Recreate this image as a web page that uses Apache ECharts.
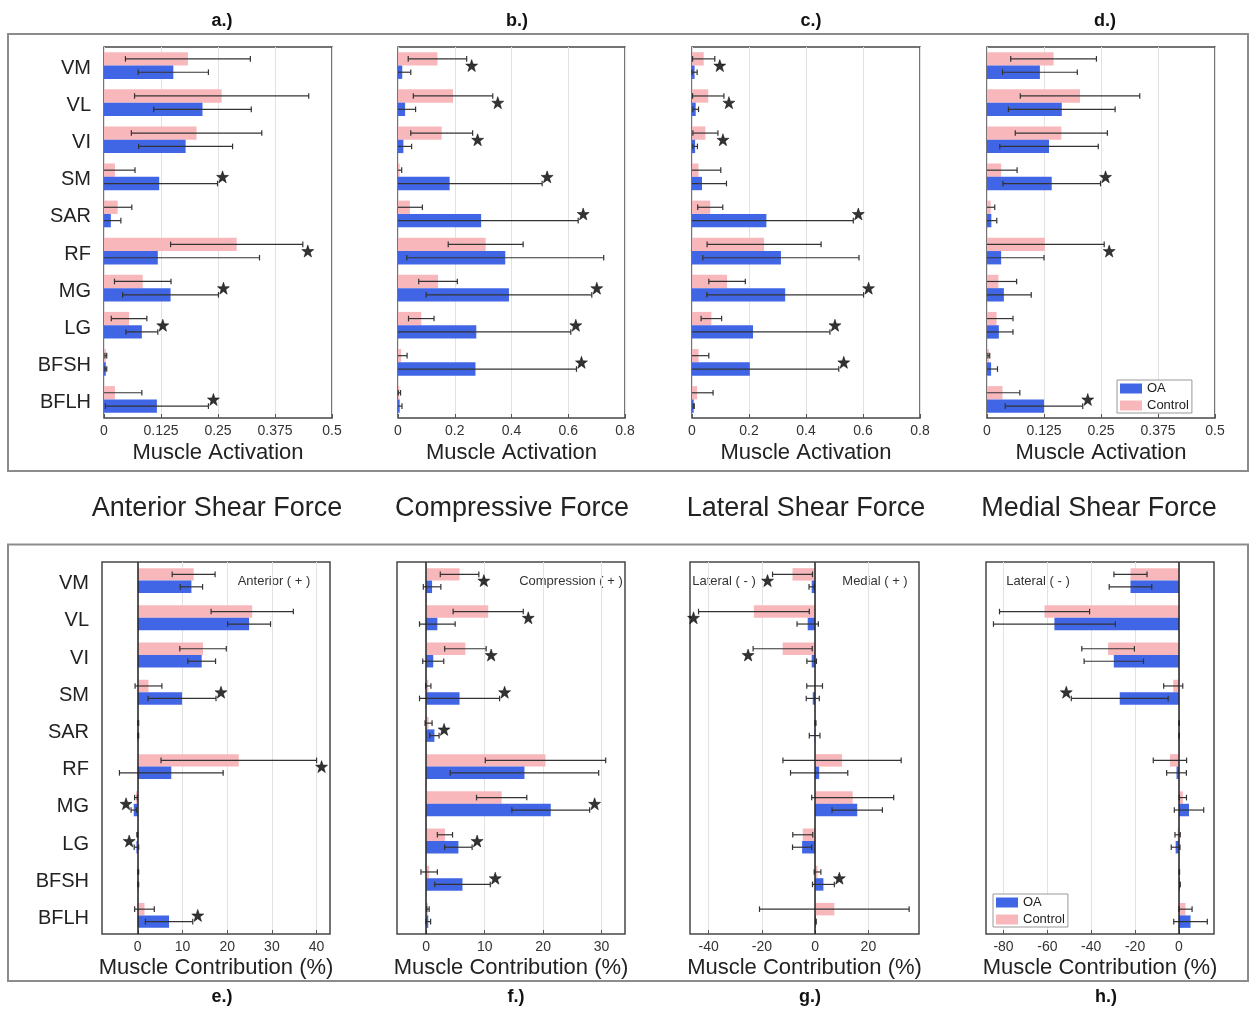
<!DOCTYPE html>
<html><head><meta charset="utf-8">
<script src="https://cdn.jsdelivr.net/npm/echarts@6/dist/echarts.min.js"></script>
<style>html,body{margin:0;padding:0;background:#fff}#c{width:1250px;height:1009px}</style>
</head><body><div id="c"></div>
<script>
// ---------------- DATA ----------------
const muscles = ['VM','VL','VI','SM','SAR','RF','MG','LG','BFSH','BFLH'];

// a.) Muscle activation, anterior shear force
const aCtrl   = [0.184, 0.258, 0.203, 0.024, 0.030, 0.291, 0.085, 0.055, 0.004, 0.024];
const aCtrlSd = [0.137, 0.191, 0.143, 0.044, 0.031, 0.145, 0.062, 0.039, 0.002, 0.059];
const aOa     = [0.152, 0.216, 0.179, 0.121, 0.015, 0.118, 0.146, 0.083, 0.004, 0.116];
const aOaSd   = [0.077, 0.107, 0.103, 0.128, 0.022, 0.223, 0.105, 0.035, 0.002, 0.113];
const aSig    = [0,0,0,1,0,1,1,1,0,1];

// b.) Muscle activation, compressive force
const bCtrl   = [0.139, 0.194, 0.154, 0.006, 0.042, 0.309, 0.141, 0.082, 0.011, 0.005];
const bCtrlSd = [0.103, 0.140, 0.109, 0.007, 0.044, 0.132, 0.068, 0.045, 0.021, 0.004];
const bOa     = [0.015, 0.025, 0.019, 0.182, 0.293, 0.378, 0.391, 0.276, 0.273, 0.006];
const bOaSd   = [0.030, 0.037, 0.029, 0.326, 0.342, 0.347, 0.292, 0.333, 0.356, 0.008];
const bSig    = [1,1,1,1,1,0,1,1,1,0];

// c.) Muscle activation, lateral shear force
const cCtrl   = [0.041, 0.057, 0.047, 0.023, 0.064, 0.253, 0.123, 0.068, 0.023, 0.018];
const cCtrlSd = [0.039, 0.055, 0.044, 0.078, 0.044, 0.200, 0.064, 0.036, 0.036, 0.056];
const cOa     = [0.009, 0.013, 0.011, 0.035, 0.261, 0.312, 0.327, 0.214, 0.203, 0.006];
const cOaSd   = [0.009, 0.010, 0.008, 0.086, 0.305, 0.274, 0.275, 0.270, 0.312, 0.002];
const cSig    = [1,1,1,0,1,0,1,1,1,0];

// d.) Muscle activation, medial shear force
const dCtrl   = [0.146, 0.204, 0.163, 0.031, 0.008, 0.127, 0.025, 0.021, 0.004, 0.034];
const dCtrlSd = [0.094, 0.131, 0.101, 0.035, 0.009, 0.130, 0.040, 0.036, 0.002, 0.038];
const dOa     = [0.116, 0.164, 0.136, 0.142, 0.0095, 0.031, 0.037, 0.026, 0.009, 0.125];
const dOaSd   = [0.082, 0.117, 0.108, 0.107, 0.012, 0.094, 0.060, 0.031, 0.014, 0.085];
const dSig    = [0,0,0,1,0,1,0,0,0,1];

// e.) Muscle contribution (%), anterior shear
const eCtrl   = [12.5, 25.6, 14.6, 2.4, 0.1, 22.6, -0.4, -0.1, 0.1, 1.5];
const eCtrlSd = [4.8, 9.2, 5.2, 3.0, 0.1, 17.4, 0.3, 0.1, 0.1, 2.2];
const eOa     = [12.0, 24.9, 14.3, 9.9, 0.1, 7.5, -0.9, -0.3, 0.1, 7.0];
const eOaSd   = [2.5, 4.8, 3.1, 7.6, 0.1, 11.6, 0.6, 0.5, 0.1, 5.3];
const eSig    = [0,0,0,1,0,1,-1,-1,0,1];

// f.) Muscle contribution (%), compression
const fCtrl   = [5.7, 10.6, 6.7, 0.35, 0.4, 20.4, 12.9, 3.2, 0.5, 0.3];
const fCtrlSd = [3.3, 6.0, 3.55, 0.45, 0.6, 10.3, 4.3, 1.3, 1.4, 0.2];
const fOa     = [1.0, 1.9, 1.2, 5.7, 1.4, 16.8, 21.3, 5.5, 6.2, 0.35];
const fOaSd   = [1.5, 3.05, 1.8, 6.85, 0.8, 12.7, 6.65, 2.35, 4.75, 0.4];
const fSig    = [1,1,1,1,1,0,1,1,1,0];

// g.) Muscle contribution (%), lateral(-)/medial(+) shear
const gCtrl   = [-8.5, -23.0, -12.2, -0.2, 0.1, 10.1, 14.1, -4.65, 0.9, 7.2];
const gCtrlSd = [7.5, 20.8, 11.1, 2.95, 0.2, 22.2, 15.4, 3.75, 1.25, 28.1];
const gOa     = [-1.3, -2.8, -1.3, -0.9, -0.2, 1.5, 15.8, -4.9, 3.1, 0.3];
const gOaSd   = [1.0, 4.0, 1.8, 2.45, 2.0, 10.75, 9.45, 3.6, 4.1, 0.1];
const gSig    = [-1,-1,-1,0,0,0,0,0,1,0];

// h.) Muscle contribution (%), medial shear (lateral -)
const hCtrl   = [-22.1, -61.3, -32.3, -2.6, 0.1, -4.1, 1.8, -0.6, 0.2, 3.0];
const hCtrlSd = [7.55, 20.55, 12.0, 4.35, 0.1, 7.6, 1.65, 1.2, 0.1, 3.0];
const hOa     = [-22.1, -56.8, -29.7, -27.0, 0.1, -1.1, 4.6, -1.5, 0.5, 5.3];
const hOaSd   = [9.7, 27.8, 13.55, 22.1, 0.1, 4.5, 6.7, 2.0, 0.1, 7.65];
const hSig    = [0,0,0,-1,0,0,0,0,0,0];

// axis extents and tick labels
const aRange = [0, 0.5],  aTicks = [0, 0.125, 0.25, 0.375, 0.5];
const bRange = [0, 0.8],  bTicks = [0, 0.2, 0.4, 0.6, 0.8];
const cRange = [0, 0.8],  cTicks = [0, 0.2, 0.4, 0.6, 0.8];
const dRange = [0, 0.5],  dTicks = [0, 0.125, 0.25, 0.375, 0.5];
const eRange = [-8, 43],  eTicks = [0, 10, 20, 30, 40];
const fRange = [-5, 34],  fTicks = [0, 10, 20, 30];
const gRange = [-47, 39], gTicks = [-40, -20, 0, 20];
const hRange = [-88, 16], hTicks = [-80, -60, -40, -20, 0];

const topTitles = ['Anterior Shear Force', 'Compressive Force', 'Lateral Shear Force', 'Medial Shear Force'];

// ---------------- LAYOUT / STYLE ----------------
const FONT = '"Liberation Sans", Arial, Helvetica, sans-serif';
const OA_COLOR = '#4066E6', CTRL_COLOR = '#F8B8BB';
const ERR_COLOR = '#333333';

const panels = [
  {ctrl:aCtrl, ctrlSd:aCtrlSd, oa:aOa, oaSd:aOaSd, sig:aSig, range:aRange, ticks:aTicks, interval:0.125, name:'Muscle Activation', grid:{left:104, top:47, width:228, height:371}, yLabels:true, gap:0.28, zero:false},
  {ctrl:bCtrl, ctrlSd:bCtrlSd, oa:bOa, oaSd:bOaSd, sig:bSig, range:bRange, ticks:bTicks, interval:0.2, name:'Muscle Activation', grid:{left:398, top:47, width:227, height:371}, yLabels:false, gap:0.28, zero:false},
  {ctrl:cCtrl, ctrlSd:cCtrlSd, oa:cOa, oaSd:cOaSd, sig:cSig, range:cRange, ticks:cTicks, interval:0.2, name:'Muscle Activation', grid:{left:692, top:47, width:228, height:371}, yLabels:false, gap:0.28, zero:false},
  {ctrl:dCtrl, ctrlSd:dCtrlSd, oa:dOa, oaSd:dOaSd, sig:dSig, range:dRange, ticks:dTicks, interval:0.125, name:'Muscle Activation', grid:{left:987, top:47, width:228, height:371}, yLabels:false, gap:0.28, zero:false},
  {ctrl:eCtrl, ctrlSd:eCtrlSd, oa:eOa, oaSd:eOaSd, sig:eSig, range:eRange, ticks:eTicks, name:'Muscle Contribution (%)', grid:{left:102, top:562, width:228, height:372}, yLabels:true, gap:0.33, zero:true},
  {ctrl:fCtrl, ctrlSd:fCtrlSd, oa:fOa, oaSd:fOaSd, sig:fSig, range:fRange, ticks:fTicks, name:'Muscle Contribution (%)', grid:{left:397, top:562, width:228, height:372}, yLabels:false, gap:0.33, zero:true},
  {ctrl:gCtrl, ctrlSd:gCtrlSd, oa:gOa, oaSd:gOaSd, sig:gSig, range:gRange, ticks:gTicks, name:'Muscle Contribution (%)', grid:{left:690, top:562, width:229, height:372}, yLabels:false, gap:0.33, zero:true},
  {ctrl:hCtrl, ctrlSd:hCtrlSd, oa:hOa, oaSd:hOaSd, sig:hSig, range:hRange, ticks:hTicks, name:'Muscle Contribution (%)', grid:{left:986, top:562, width:228, height:372}, yLabels:false, gap:0.33, zero:true}
];

const STAR = 'path://M12,0.5 L14.8,8.6 L23.4,8.7 L16.5,13.9 L19.1,22.1 L12,17.2 L4.9,22.1 L7.5,13.9 L0.6,8.7 L9.2,8.6 Z';

function makeErrRender(gapFrac) {
  return function (params, api) {
    const cat = api.value(0), m = api.value(1), sd = api.value(2), which = api.value(3);
    const band = api.size([0, 1])[1];
    const barH = band * (1 - gapFrac) / 2;
    const yc = api.coord([0, cat])[1] + (which === 0 ? -barH / 2 : barH / 2);
    const cs = params.coordSys;
    const xmin = cs.x, xmax = cs.x + cs.width;
    let x1 = api.coord([m - sd, cat])[0], x2 = api.coord([m + sd, cat])[0];
    const c1 = x1 >= xmin, c2 = x2 <= xmax;
    x1 = Math.max(xmin, x1); x2 = Math.min(xmax, x2);
    const st = {stroke: ERR_COLOR, lineWidth: 1.2};
    const cap = 2.8;
    const children = [{type: 'line', shape: {x1: x1, y1: yc, x2: x2, y2: yc}, style: st}];
    if (c1) children.push({type: 'line', shape: {x1: x1, y1: yc - cap, x2: x1, y2: yc + cap}, style: st});
    if (c2) children.push({type: 'line', shape: {x1: x2, y1: yc - cap, x2: x2, y2: yc + cap}, style: st});
    return {type: 'group', children: children};
  };
}

const grids = [], xAxes = [], yAxes = [], series = [];
panels.forEach(function (p, i) {
  grids.push(Object.assign({show: true, borderColor: '#474747', borderWidth: 1.5, backgroundColor: '#fff', containLabel: false}, p.grid));
  const xa = {
    type: 'value', gridIndex: i, min: p.range[0], max: p.range[1],
    name: p.name, nameLocation: 'middle', nameGap: i < 4 ? 24 : 23,
    nameTextStyle: {fontSize: 22, color: '#222', fontFamily: FONT},
    axisLine: {show: false},
    axisTick: {show: true, inside: true, length: 4, lineStyle: {color: '#555'}, customValues: p.ticks},
    axisLabel: {fontSize: 14, color: '#333', fontFamily: FONT, margin: 6, customValues: p.ticks,
      formatter: function (v) { return String(v); }},
    splitLine: {show: true, lineStyle: {color: '#e2e2e2', width: 1}}
  };
  if (p.interval) xa.interval = p.interval;
  xAxes.push(xa);
  yAxes.push({
    type: 'category', gridIndex: i, data: muscles, inverse: true,
    axisLine: {show: false}, axisTick: {show: false},
    axisLabel: {show: p.yLabels, fontSize: 20, color: '#222', fontFamily: FONT, margin: 13,
      verticalAlign: 'top', lineHeight: 20, padding: [-7, 0, 0, 0]},
    splitLine: {show: false}
  });
  const gapPct = Math.round(p.gap * 100) + '%';
  series.push({type: 'bar', name: 'Control', xAxisIndex: i, yAxisIndex: i, data: p.ctrl,
    itemStyle: {color: CTRL_COLOR}, barGap: '0%', barCategoryGap: gapPct, z: 2, silent: true});
  const oaSeries = {type: 'bar', name: 'OA', xAxisIndex: i, yAxisIndex: i, data: p.oa,
    itemStyle: {color: OA_COLOR}, barGap: '0%', barCategoryGap: gapPct, z: 2, silent: true};
  if (p.zero) {
    oaSeries.markLine = {silent: true, symbol: ['none', 'none'], label: {show: false},
      lineStyle: {color: '#222', width: 1.5, type: 'solid'}, data: [{xAxis: 0}]};
  }
  series.push(oaSeries);
  const err = [];
  p.ctrl.forEach(function (m, k) { err.push([k, m, p.ctrlSd[k], 0]); });
  p.oa.forEach(function (m, k) { err.push([k, m, p.oaSd[k], 1]); });
  series.push({type: 'custom', xAxisIndex: i, yAxisIndex: i, data: err, z: 3, silent: true,
    encode: {x: 1, y: 0}, renderItem: makeErrRender(p.gap)});
  const stars = [];
  p.sig.forEach(function (s, k) {
    if (!s) return;
    let x;
    if (s > 0) x = Math.max(p.ctrl[k] + p.ctrlSd[k], p.oa[k] + p.oaSd[k]);
    else x = Math.min(p.ctrl[k] - p.ctrlSd[k], p.oa[k] - p.oaSd[k]);
    stars.push({value: [x, k], symbolOffset: [s > 0 ? 5 : -5, 0]});
  });
  series.push({type: 'scatter', xAxisIndex: i, yAxisIndex: i, data: stars, symbol: STAR,
    symbolSize: 12, itemStyle: {color: '#000', borderColor: '#000', borderWidth: 0.6}, z: 4, silent: true});
});

function txt(text, x, y, size, weight, color) {
  return {type: 'text', x: x, y: y, silent: true,
    style: {text: text, fontSize: size, fontWeight: weight || 'normal', fontFamily: FONT, fill: color || '#222',
      align: 'center', verticalAlign: 'middle', textAlign: 'center', textVerticalAlign: 'middle'}};
}

const graphics = [
  {type: 'rect', shape: {x: 8, y: 34, width: 1240, height: 437}, style: {fill: 'none', stroke: '#8c8c8c', lineWidth: 2}, silent: true, z: -1},
  {type: 'rect', shape: {x: 8, y: 544.5, width: 1240, height: 436.5}, style: {fill: 'none', stroke: '#8c8c8c', lineWidth: 2}, silent: true, z: -1}
];
const topLetters = ['a.)', 'b.)', 'c.)', 'd.)'], botLetters = ['e.)', 'f.)', 'g.)', 'h.)'];
const letterX = [222, 517, 811, 1105], botLetterX = [222, 516, 810, 1106];
topLetters.forEach(function (t, i) { graphics.push(txt(t, letterX[i], 21, 18, 'bold', '#111')); });
botLetters.forEach(function (t, i) { graphics.push(txt(t, botLetterX[i], 997, 18, 'bold', '#111')); });
const titleX = [217, 512, 806, 1099];
topTitles.forEach(function (t, i) { graphics.push(txt(t, titleX[i], 509, 27, 'normal', '#222')); });
graphics.push(txt('Anterior ( + )', 274, 581, 13, 'normal', '#333'));
graphics.push(txt('Compression ( + )', 571, 581, 13, 'normal', '#333'));
graphics.push(txt('Lateral ( - )', 724, 581, 13, 'normal', '#333'));
graphics.push(txt('Medial ( + )', 875, 581, 13, 'normal', '#333'));
graphics.push(txt('Lateral ( - )', 1038, 581, 13, 'normal', '#333'));

const legendBase = {data: ['OA', 'Control'], orient: 'vertical', icon: 'rect', itemWidth: 22, itemHeight: 10,
  itemGap: 4, padding: [2, 3, 1, 3], borderColor: '#999', borderWidth: 1, backgroundColor: '#fff',
  textStyle: {fontSize: 13, color: '#222', fontFamily: FONT}, selectedMode: false};

const chart = echarts.init(document.getElementById('c'), null, {renderer: 'canvas'});
chart.setOption({
  animation: false,
  backgroundColor: '#fff',
  textStyle: {fontFamily: FONT},
  grid: grids, xAxis: xAxes, yAxis: yAxes, series: series,
  legend: [Object.assign({left: 1117, top: 380}, legendBase), Object.assign({left: 993, top: 894}, legendBase)],
  graphic: {elements: graphics}
});
</script>
</body></html>
